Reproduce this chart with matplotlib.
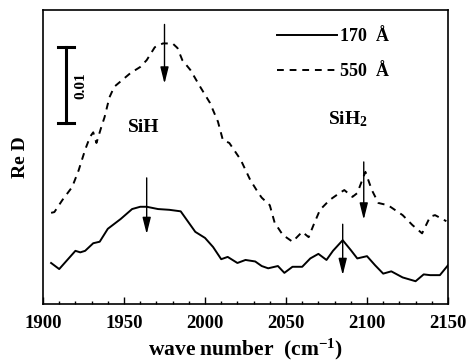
import matplotlib
matplotlib.use('Agg')
import matplotlib.pyplot as plt
from matplotlib.ticker import MultipleLocator

plt.rcParams['font.family'] = ['Liberation Serif', 'DejaVu Serif']
plt.rcParams['font.weight'] = 'bold'
plt.rcParams['axes.labelweight'] = 'bold'
plt.rcParams['mathtext.fontset'] = 'custom'
plt.rcParams['mathtext.rm'] = 'Liberation Serif:bold'
plt.rcParams['mathtext.default'] = 'rm'

# Re D values in units of 1e-3 (offset arbitrary)
wn_170 = [1905, 1910, 1920, 1923, 1926, 1931, 1935, 1940, 1948, 1955, 1960, 1964,
          1971, 1978, 1985, 1990, 1994, 2000, 2005, 2010, 2014, 2020, 2025, 2031,
          2035, 2039, 2045, 2049, 2054, 2060, 2065, 2070, 2075, 2079, 2085, 2090,
          2094, 2100, 2105, 2110, 2115, 2122, 2130, 2135, 2139, 2145, 2150]
red_170 = [5.4, 4.6, 7.0, 6.8, 7.0, 8.0, 8.2, 9.9, 11.2, 12.5, 12.8, 12.8,
           12.5, 12.4, 12.2, 10.7, 9.5, 8.7, 7.5, 5.9, 6.2, 5.4, 5.8, 5.6,
           5.0, 4.7, 5.0, 4.1, 4.9, 4.9, 6.0, 6.6, 5.8, 7.0, 8.4, 7.1,
           6.0, 6.3, 5.1, 4.0, 4.3, 3.5, 3.0, 3.9, 3.8, 3.8, 5.1]

wn_550 = [1905, 1907, 1912, 1918, 1922, 1926, 1929, 1931, 1933, 1936, 1938, 1941,
          1944, 1949, 1954, 1960, 1964, 1969, 1974, 1980, 1983, 1986, 1991, 1997,
          2003, 2008, 2011, 2015, 2022, 2028, 2033, 2035, 2040, 2043, 2048, 2054,
          2060, 2064, 2067, 2071, 2077, 2083, 2086, 2091, 2094, 2099, 2103, 2107,
          2113, 2122, 2128, 2134, 2139, 2142, 2149]
red_550 = [12.0, 12.1, 13.7, 15.4, 17.6, 20.3, 22.0, 22.6, 21.2, 23.3, 24.6, 27.2,
           28.6, 29.5, 30.4, 31.2, 32.1, 33.8, 34.3, 34.3, 33.7, 32.1, 30.8, 28.6,
           26.5, 24.0, 21.6, 21.2, 19.0, 16.3, 14.6, 14.0, 13.0, 10.7, 9.1, 8.2,
           9.5, 8.8, 10.4, 12.4, 13.7, 14.6, 15.0, 14.1, 14.6, 17.4, 15.0, 13.3,
           13.0, 11.7, 10.4, 9.3, 11.5, 11.7, 10.9]

x_ticks = [1900, 1950, 2000, 2050, 2100, 2150]
x_tick_labels = ['1900', '1950', '2000', '2050', '2100', '2150']

# arrows: (x, y_start, y_end)
arrows = [(1964, 16.6, 9.2), (1975, 36.8, 29.0), (2085, 10.5, 3.8), (2098, 18.7, 11.1)]

fig = plt.figure(figsize=(4.69, 3.64), dpi=100)
ax = fig.add_axes([0.0917, 0.1648, 0.8635, 0.8077])

ax.plot(wn_170, red_170, color='black', lw=1.4, label='170  Å')
ax.plot(wn_550, red_550, color='black', lw=1.4, dashes=(3.5, 3), label='550  Å')

for x, y0, y1 in arrows:
    ax.annotate('', xy=(x, y1), xytext=(x, y0),
                arrowprops=dict(arrowstyle='-|>,head_length=1.0,head_width=0.25',
                                color='black', lw=1.0, shrinkA=0, shrinkB=0))

# scale bar
ax.plot([1914, 1914], [23.8, 33.8], color='black', lw=2.2)
ax.plot([1909, 1919], [33.8, 33.8], color='black', lw=2.2)
ax.plot([1909, 1919], [23.8, 23.8], color='black', lw=2.2)
ax.text(1923.5, 28.8, '0.01', rotation=90, ha='center', va='center',
        fontsize=11, fontweight='bold')

ax.text(1962, 23.3, 'SiH', ha='center', va='center', fontsize=14, fontweight='bold')
ax.text(2088, 24.3, 'SiH$_2$', ha='center', va='center', fontsize=14, fontweight='bold')

ax.set_xlim(1900, 2150)
ax.set_ylim(0, 38.7)
ax.set_xticks(x_ticks, x_tick_labels, fontsize=13.5, fontweight='bold')
ax.xaxis.set_minor_locator(MultipleLocator(10))
ax.tick_params(axis='x', which='major', direction='in', length=5, width=1, pad=8)
ax.tick_params(axis='x', which='minor', direction='in', length=2.5, width=1)
ax.set_yticks([])
for s in ax.spines.values():
    s.set_linewidth(1.2)

ax.set_xlabel('wave number  (cm$^{-1}$)', fontsize=15.5, fontweight='bold', labelpad=3)
ax.set_ylabel('Re D', fontsize=14, fontweight='bold', labelpad=10)

ax.legend(loc='upper right', frameon=False, prop={'size': 13, 'weight': 'bold'},
          handlelength=3.3, handletextpad=0.2, borderaxespad=0.6, labelspacing=1.0,
          bbox_to_anchor=(0.9, 1.0))

fig.savefig('out.png', dpi=100)
